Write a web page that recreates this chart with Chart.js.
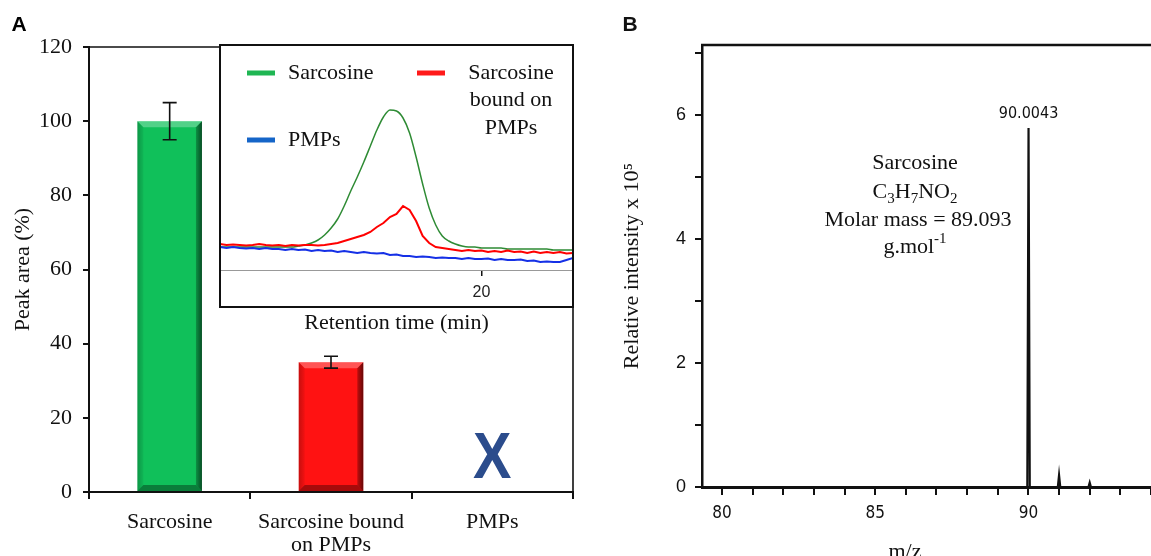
<!DOCTYPE html>
<html><head><meta charset="utf-8">
<script src="https://cdn.jsdelivr.net/npm/chart.js@4.4.1/dist/chart.umd.min.js"></script>
<style>
html,body{margin:0;padding:0;background:#fff;}
#wrap{position:relative;width:1151px;height:556px;overflow:hidden;background:#fff;}
canvas{position:absolute;}
#cA{left:0;top:0;}
#cIn{left:219px;top:44px;}
#cB{left:580px;top:0;}
</style></head><body>
<div id="wrap">
<canvas id="cA" width="580" height="556"></canvas>
<canvas id="cIn" width="356" height="296"></canvas>
<canvas id="cB" width="579" height="556"></canvas>
</div>
<script>
// ---------- Panel A : bar chart ----------
const barCategories = [['Sarcosine'], ['Sarcosine bound', 'on PMPs'], ['PMPs']];
const peakAreaPct = [100, 35, 0];
const peakAreaErr = [5, 1.6, 0];
const notDetected = [false, false, true];
const yTicksA = [0, 20, 40, 60, 80, 100, 120];

// ---------- Panel A inset : chromatograms ----------
const retentionTime = [12.0,12.2,12.4,12.6,12.8,13.0,13.2,13.4,13.6,13.8,14.0,14.2,14.4,14.6,14.8,15.0,15.2,15.4,15.6,15.8,16.0,16.2,16.4,16.6,16.8,17.0,17.2,17.4,17.6,17.8,18.0,18.2,18.4,18.6,18.8,19.0,19.2,19.4,19.6,19.8,20.0,20.2,20.4,20.6,20.8,21.0,21.2,21.4,21.6,21.8,22.0,22.2,22.4,22.6,22.8];
const sarcosineTrace = [23,23,23,23,23,23,23,23,23,23,23,23,24,25,27,30,35,42,51,64,79,93,108,124,140,153,160,159,152,137,113,86,62,45,34,29,26,24,23,23,22,22,22,22,21,21,21,21,21,21,21,20,20,20,20];
const boundTrace = [26,25,25.5,25,24.5,25,26,25,24.5,25,24,25,24.5,25,25,24.5,25,26,27,29,31,33,35,38,43,47,53,56,64,60,49,34,27,23,22,21,20,19,20,19,19.5,18,19,18,19.5,18,18.5,17,18.5,17,18,17,18,16.5,17];
const pmpTrace = [23,22,23,22,21.5,22,21,22,21,21,20,21,20,20.5,19,20,19,19.5,18,19,18,17,18,17,16.5,17,15,15.5,14,14,13,13.5,13,12,12.5,12,12,11,12,11,11,11.5,10,11,10,10,10.5,9,9.5,8,8.5,8,8,10,12];
const insetTicks = [20];
const seriesNames = ['Sarcosine', ['Sarcosine', 'bound on', 'PMPs'], 'PMPs'];

// ---------- Panel B : mass spectrum ----------
const mzPeaks = [90.0043, 91.0, 92.0];
const relIntensity = [5.79, 0.19, 0.07];
const peakLabels = ['90.0043', '', ''];
const xTicksB = [80,81,82,83,84,85,86,87,88,89,90,91,92,93,94];
const yTicksB = [0,1,2,3,4,5,6,7];

const SERIF = "'Liberation Serif','Times New Roman',serif";
const SANS = "'Liberation Sans',Arial,sans-serif";
const NARROW = "'Liberation Sans Narrow','DejaVu Sans Condensed','Liberation Sans',Arial,sans-serif";
const INK = '#111';

// ---------- plugins panel A ----------
const bevelPlugin = {
  id: 'bevel',
  afterDatasetsDraw(chart) {
    const ctx = chart.ctx;
    chart.getDatasetMeta(0).data.forEach((bar, i) => {
      if (!peakAreaPct[i]) return;
      const p = bar.getProps(['x', 'y', 'base', 'width'], true);
      const l = p.x - p.width / 2, r = p.x + p.width / 2, t = p.y, b = p.base, e = 6;
      ctx.save();
      ctx.fillStyle = 'rgba(255,255,255,0.28)';
      ctx.beginPath(); ctx.moveTo(l, t); ctx.lineTo(r, t); ctx.lineTo(r - e, t + e); ctx.lineTo(l + e, t + e); ctx.closePath(); ctx.fill();
      let g = ctx.createLinearGradient(r - e, 0, r, 0);
      g.addColorStop(0, 'rgba(0,0,0,0.25)'); g.addColorStop(1, 'rgba(0,0,0,0.6)');
      ctx.fillStyle = g;
      ctx.beginPath(); ctx.moveTo(r - e, t + e); ctx.lineTo(r, t); ctx.lineTo(r, b); ctx.lineTo(r - e, b - e); ctx.closePath(); ctx.fill();
      g = ctx.createLinearGradient(l, 0, l + e, 0);
      g.addColorStop(0, 'rgba(0,0,0,0.22)'); g.addColorStop(1, 'rgba(0,0,0,0.05)');
      ctx.fillStyle = g;
      ctx.beginPath(); ctx.moveTo(l, t); ctx.lineTo(l + e, t + e); ctx.lineTo(l + e, b - e); ctx.lineTo(l, b); ctx.closePath(); ctx.fill();
      ctx.fillStyle = 'rgba(0,0,0,0.35)';
      ctx.beginPath(); ctx.moveTo(l, b); ctx.lineTo(l + e, b - e); ctx.lineTo(r - e, b - e); ctx.lineTo(r, b); ctx.closePath(); ctx.fill();
      ctx.restore();
    });
  }
};
const errPlugin = {
  id: 'err',
  afterDatasetsDraw(chart) {
    const ctx = chart.ctx, ys = chart.scales.y;
    chart.getDatasetMeta(0).data.forEach((bar, i) => {
      const e = peakAreaErr[i];
      if (!e) return;
      const x = bar.x, y1 = ys.getPixelForValue(peakAreaPct[i] + e), y2 = ys.getPixelForValue(peakAreaPct[i] - e);
      ctx.save(); ctx.strokeStyle = INK; ctx.lineWidth = 1.6;
      ctx.beginPath();
      ctx.moveTo(x, y1); ctx.lineTo(x, y2);
      ctx.moveTo(x - 7, y1); ctx.lineTo(x + 7, y1);
      ctx.moveTo(x - 7, y2); ctx.lineTo(x + 7, y2);
      ctx.stroke(); ctx.restore();
    });
  }
};
const xMarkPlugin = {
  id: 'xmark',
  afterDatasetsDraw(chart) {
    const ctx = chart.ctx, xs = chart.scales.x, ys = chart.scales.y;
    notDetected.forEach((nd, i) => {
      if (!nd) return;
      const x = xs.getPixelForTick(i), y = ys.getPixelForValue(0) - 14;
      ctx.save();
      ctx.translate(x, y); ctx.scale(0.9, 1);
      ctx.fillStyle = '#2b4c8c'; ctx.font = "bold 64px " + SANS;
      ctx.textAlign = 'center'; ctx.textBaseline = 'alphabetic';
      ctx.fillText('X', 0, 0);
      ctx.restore();
    });
  }
};
const frameA = {
  id: 'frameA',
  afterDraw(chart) {
    const ctx = chart.ctx, a = chart.chartArea;
    ctx.save();
    ctx.strokeStyle = INK; ctx.lineWidth = 1.6;
    ctx.beginPath(); ctx.moveTo(a.left, a.top); ctx.lineTo(a.right, a.top); ctx.lineTo(a.right, a.bottom); ctx.stroke();
    ctx.fillStyle = '#000'; ctx.font = "bold 21px " + SANS; ctx.textAlign = 'center'; ctx.textBaseline = 'middle';
    ctx.fillText('A', 19, 25);
    ctx.restore();
  }
};

new Chart(document.getElementById('cA'), {
  type: 'bar',
  data: { labels: barCategories, datasets: [{ data: peakAreaPct, backgroundColor: ['#10c05a', '#ff1212', '#888'], borderWidth: 0, barPercentage: 0.4, categoryPercentage: 1 }] },
  options: {
    responsive: false, animation: false, events: [],
    layout: { padding: { top: 47, right: 7, left: 0, bottom: 0 } },
    plugins: { legend: { display: false }, tooltip: { enabled: false } },
    scales: {
      x: {
        grid: { offset: true, drawOnChartArea: false, tickLength: 7, color: INK, lineWidth: 2 },
        border: { color: INK, width: 2 },
        ticks: { font: { family: SERIF, size: 22, lineHeight: 1.05 }, color: INK, padding: 12, maxRotation: 0, autoSkip: false },
        afterFit(s) { s.height = 64; }
      },
      y: {
        min: 0, max: 120,
        afterBuildTicks(s) { s.ticks = yTicksA.map(v => ({ value: v })); },
        grid: { drawOnChartArea: false, tickLength: 6, color: INK, lineWidth: 2 },
        border: { color: INK, width: 2 },
        ticks: { font: { family: SERIF, size: 22 }, color: INK, padding: 11 },
        title: { display: true, text: 'Peak area (%)', font: { family: SERIF, size: 22 }, color: INK, padding: { top: 10, bottom: 0 } },
        afterFit(s) { s.width = 89; }
      }
    }
  },
  plugins: [bevelPlugin, errPlugin, xMarkPlugin, frameA]
});

// ---------- inset ----------
const legendSwatch = ['#1fb653', '#ff1a1a', '#1565c8'];
const insetBox = {
  id: 'insetBox',
  beforeDraw(chart) {
    const ctx = chart.ctx;
    ctx.save(); ctx.fillStyle = '#fff'; ctx.fillRect(1, 1, 353, 262); ctx.restore();
  },
  afterDraw(chart) {
    const ctx = chart.ctx;
    ctx.save();
    ctx.strokeStyle = INK; ctx.lineWidth = 2; ctx.strokeRect(1, 1, 353, 262);
    ctx.lineWidth = 5; ctx.lineCap = 'butt';
    const sw = [[28, 29], [198, 29], [28, 96]];
    ctx.font = "22px " + SERIF; ctx.fillStyle = INK; ctx.textBaseline = 'middle';
    sw.forEach((p, i) => {
      ctx.strokeStyle = legendSwatch[i];
      ctx.beginPath(); ctx.moveTo(p[0], p[1]); ctx.lineTo(p[0] + 28, p[1]); ctx.stroke();
      const name = seriesNames[i];
      if (Array.isArray(name)) {
        ctx.textAlign = 'center';
        name.forEach((ln, k) => ctx.fillText(ln, 292, p[1] + k * 27.5));
      } else {
        ctx.textAlign = 'left';
        ctx.fillText(name, p[0] + 41, p[1]);
      }
    });
    ctx.restore();
  }
};
const pts = arr => retentionTime.map((t, i) => ({ x: t, y: arr[i] }));
new Chart(document.getElementById('cIn'), {
  type: 'line',
  data: {
    datasets: [
      { label: 'Sarcosine bound on PMPs', data: pts(boundTrace), borderColor: '#ff0000', borderWidth: 2, pointRadius: 0, tension: 0 },
      { label: 'PMPs', data: pts(pmpTrace), borderColor: '#1530e6', borderWidth: 2, pointRadius: 0, tension: 0 },
      { label: 'Sarcosine', data: pts(sarcosineTrace), borderColor: '#2e8b34', borderWidth: 1.5, pointRadius: 0, cubicInterpolationMode: 'monotone' }
    ]
  },
  options: {
    responsive: false, animation: false, events: [],
    layout: { padding: { top: 1, right: 2, left: 1, bottom: 0 } },
    plugins: { legend: { display: false }, tooltip: { enabled: false } },
    scales: {
      x: {
        type: 'linear', min: 12, max: 22.8,
        afterBuildTicks(s) { s.ticks = insetTicks.map(v => ({ value: v })); },
        grid: { drawOnChartArea: false, tickLength: 6, color: INK, lineWidth: 1.5 },
        border: { color: '#999', width: 1 },
        ticks: { font: { family: SANS, size: 16 }, color: '#222', padding: 7 },
        title: { display: true, text: 'Retention time (min)', font: { family: SERIF, size: 22 }, color: INK, padding: { top: 0, bottom: 4 } },
        afterFit(s) { s.height = 70; }
      },
      y: { display: false, min: 0, max: 225 }
    }
  },
  plugins: [insetBox]
});

// ---------- Panel B ----------
const xMinB = 79.35, xMaxB = 94.0;
const spectrum = [{ x: xMinB, y: 0 }];
mzPeaks.forEach((p, i) => { spectrum.push({ x: p - 0.04, y: 0 }, { x: p, y: relIntensity[i] }, { x: p + 0.04, y: 0 }); });
spectrum.push({ x: xMaxB, y: 0 });

function drawRich(ctx, parts, cx, y, size) {
  const base = size + 'px ' + SERIF, small = Math.round(size * 0.68) + 'px ' + SERIF;
  let w = 0;
  parts.forEach(p => { ctx.font = p[1] ? small : base; w += ctx.measureText(p[0]).width; });
  let x = cx - w / 2;
  ctx.textAlign = 'left';
  parts.forEach(p => {
    ctx.font = p[1] ? small : base;
    const dy = p[1] === 1 ? size * 0.3 : (p[1] === -1 ? -size * 0.35 : 0);
    ctx.fillText(p[0], x, y + dy);
    x += ctx.measureText(p[0]).width;
  });
}
const annotB = {
  id: 'annotB',
  afterDraw(chart) {
    const ctx = chart.ctx, a = chart.chartArea, xs = chart.scales.x, ys = chart.scales.y;
    ctx.save();
    ctx.strokeStyle = INK; ctx.lineWidth = 2.5;
    ctx.beginPath(); ctx.moveTo(a.left - 1, a.top); ctx.lineTo(a.right + 20, a.top); ctx.stroke();
    ctx.fillStyle = INK; ctx.textBaseline = 'middle';
    ctx.font = "16px " + NARROW; ctx.textAlign = 'center';
    mzPeaks.forEach((p, i) => {
      if (!peakLabels[i]) return;
      ctx.fillText(peakLabels[i], xs.getPixelForValue(p), ys.getPixelForValue(relIntensity[i]) - 14);
    });
    const cx = 335;
    ctx.font = "22px " + SERIF; ctx.textAlign = 'center';
    ctx.fillText('Sarcosine', cx, 163);
    drawRich(ctx, [['C', 0], ['3', 1], ['H', 0], ['7', 1], ['NO', 0], ['2', 1]], cx, 192, 22);
    ctx.font = "22px " + SERIF; ctx.textAlign = 'center';
    ctx.fillText('Molar mass = 89.093', cx + 3, 220);
    drawRich(ctx, [['g.mol', 0], ['-1', -1]], cx, 247, 22);
    ctx.font = "22px " + SERIF; ctx.textAlign = 'center';
    ctx.fillText('m/z', 325, 552);
    ctx.font = "bold 21px " + SANS;
    ctx.fillText('B', 50, 25);
    ctx.restore();
  }
};
new Chart(document.getElementById('cB'), {
  type: 'line',
  data: { datasets: [{ data: spectrum, borderColor: INK, borderWidth: 2.2, pointRadius: 0, tension: 0 }] },
  options: {
    responsive: false, animation: false, events: [],
    layout: { padding: { top: 45, right: 0, left: 0, bottom: 0 } },
    plugins: { legend: { display: false }, tooltip: { enabled: false } },
    scales: {
      x: {
        type: 'linear', min: xMinB, max: xMaxB,
        afterBuildTicks(s) { s.ticks = xTicksB.map(v => ({ value: v })); },
        grid: { drawOnChartArea: false, tickLength: 8, color: INK, lineWidth: 2 },
        border: { color: INK, width: 3 },
        ticks: { font: { family: NARROW, size: 17 }, color: INK, padding: 8, maxRotation: 0, autoSkip: false, callback: v => (v % 5 === 0 ? String(v) : '') },
        afterFit(s) { s.height = 69; }
      },
      y: {
        min: 0, max: 7.13,
        afterBuildTicks(s) { s.ticks = yTicksB.map(v => ({ value: v })); },
        grid: { drawOnChartArea: false, tickLength: 7, color: INK, lineWidth: 2 },
        border: { color: INK, width: 2.5 },
        ticks: { font: { family: SANS, size: 18 }, color: INK, padding: 9, autoSkip: false, callback: v => (v % 2 === 0 ? String(v) : '') },
        title: { display: true, text: 'Relative intensity x 10\u2075', font: { family: SERIF, size: 22 }, color: INK, padding: { top: 39, bottom: 0 } },
        afterFit(s) { s.width = 122; }
      }
    }
  },
  plugins: [annotB]
});
</script>
</body></html>
